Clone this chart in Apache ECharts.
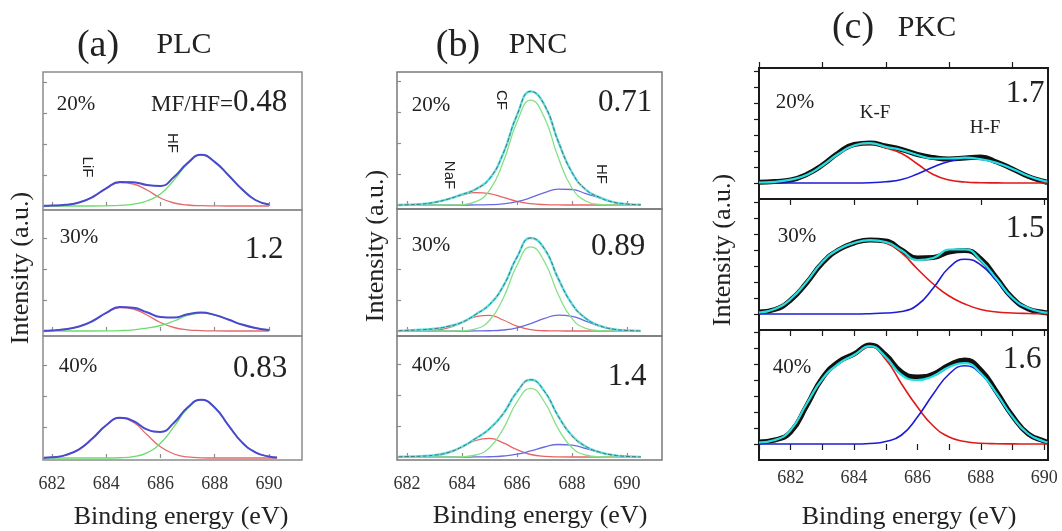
<!DOCTYPE html>
<html><head><meta charset="utf-8">
<script src="https://cdn.jsdelivr.net/npm/echarts@6/dist/echarts.min.js"></script>
<style>html,body{margin:0;padding:0;background:#fff}#c{width:1062px;height:531px}</style>
</head><body><div id="c"></div>
<script>
// ---------- DATA (intensities in arbitrary units) ----------
const tickEnergies = [682, 684, 686, 688, 690];

// (a) PLC
const energyA = [681.7,682,682.5,683,683.5,684,684.5,685,685.5,686,686.5,687,687.5,688,688.5,689,689.5,690,690.3];
const a20LiF = [0.2,0.4,1.2,3.5,9,17.5,23.5,22,16,8,3,1,0.3,0.1,0,0,0,0,null];
const a20HF  = [0,0,0,0,0,0.2,0.6,1.8,5,12,26,42,51,44,31,17,6,1.5,null];
const a20Fit = [0.2,0.4,1.2,3.5,9,17.7,24.1,23.8,21,20,29,43,51.3,44.1,31,17,6,1.5,null];
const a30LiF = [0.3,0.6,1.8,4.5,10,18,23.5,22,16,8.5,3.5,1.2,0.4,0.1,0,0,0,0,null];
const a30HF  = [0,0,0,0,0,0.1,0.4,1.2,2.8,5.5,10,15.5,18,16,11.5,6.5,3,1,null];
const a30Fit = [0.3,0.6,1.8,4.5,10,18.1,23.9,23.2,18.8,14,13.5,16.7,18.4,16.1,11.5,6.5,3,1,null];
const a40LiF = [0.25,0.7,2.9,8.7,19.7,32.7,39.9,35.7,23.4,11.3,4,1.05,0.2,0,0,0,0,0,0];
const a40HF  = [0,0,0,0,0,0,0.26,1.35,5.2,14.8,31.3,49.4,58,50.6,32.9,15.9,5.7,1.5,0.6];
const a40Fit = [0.25,0.7,2.9,8.7,19.7,32.7,40.2,37,28.6,26.1,35.3,50.5,58.2,50.6,32.9,15.9,5.7,1.5,0.6];

// (b) PNC
const energyB = [681.7,682,682.5,683,683.5,684,684.5,685,685.5,686,686.5,687,687.5,688,688.5,689,689.5,690,690.5];
const b20NaF = [0.07,0.19,0.82,2.6,5.9,10,12.4,11.3,7.6,3.7,1.35,0.36,0.07,0,0,0,0,0,0];
const b20CF  = [0,0,0,0,0.05,0.47,3.3,14.6,42.9,82.8,104.9,87.2,47.5,17,4,0.6,0.06,0,0];
const b20HF  = [0,0,0,0,0,0,0.06,0.29,1.1,3.3,7.3,12.4,15.9,15.5,11.4,7,2.7,0.87,0.21];
const b20Fit = [0.07,0.19,0.82,2.6,5.95,10.5,15.8,26.2,51.6,89.8,113.6,100,63.5,32.5,15.4,7.6,2.8,0.9,0.2];
const b30NaF = [0,0.01,0.12,0.76,3.2,8.4,14.4,15.7,11,4.9,1.4,0.26,0.03,0,0,0,0,0,0];
const b30CF  = [0,0,0,0,0,0.29,2.2,10.5,32.8,65.7,84.2,69.3,36.5,12.4,2.7,0.37,0.04,0,0];
const b30HF  = [0,0,0,0,0,0,0.04,0.23,1,3.2,7.4,12.6,15.9,14.6,9.9,4.9,1.8,0.48,0.1];
const b30Fit = [0.3,0.6,1.2,2.3,4.6,8.7,16.6,26.4,44.8,73.8,93,82.2,52.4,27,12.6,5.3,1.8,0.5,0.1];
const b40NaF = [0,0.03,0.21,1.1,4,9.9,16.5,18.6,14.1,7.3,2.5,0.6,0.1,0,0,0,0,0,0];
const b40CF  = [0,0,0,0,0,0.27,2,9.3,28.2,55,68.7,55,28.2,9.3,2,0.27,0.01,0,0];
const b40HF  = [0,0,0,0,0,0,0.05,0.26,0.98,2.8,6.1,10,12.5,11.9,8.5,4.6,1.9,0.6,0.14];
const b40Fit = [0.2,0.4,0.8,1.8,4.5,10.2,18.6,28.2,43.3,65.1,77.3,65.6,40.8,21.2,10.5,4.9,1.9,0.6,0.14];

// (c) PKC
const energyC = [681,681.5,682,682.5,683,683.5,684,684.5,685,685.5,686,686.5,687,687.5,688,688.5,689,689.5,690,690.1];
const c20Data = [0.8,1.5,3,8.5,18,30,38.5,40,37,33.5,28.5,25.5,24,25,26,21,14,6.5,1.5,0.5];
const c20KF   = [0.5,1.2,3.3,8,17.5,29,37.5,39.5,35,29.5,19,8.5,3,1,0.3,0.1,0,0,0,0];
const c20HF   = [0,0,0,0,0,0,0,0.3,1.2,3.5,9,16,21.5,24.3,23.5,20,14,7,2,1.5];
const c20Fit  = [0.5,1.2,3.3,8,17.5,29,37.5,39.8,36.2,33,28,24.5,24.5,25.3,23.8,20.1,14,7,2,1.5];
const c30Data = [2,4.5,14,31,51,64,71,74,73,64,56,56.5,62,63.5,55,36,16,5,1.5,1];
const c30KF   = [1.5,5,15,32,52,64.5,71,73.5,71,61,45,30,18,10,4.5,2,1,0.5,0.2,0.2];
const c30HF   = [0,0,0,0,0,0,0,0.3,1,2.5,9,26,46.5,54.7,49,33,15,5.5,1.5,1.2];
const c30Fit  = [1.5,5,15,32,52,64.5,71,73.8,72,63.5,54,56,64.5,64.7,53.5,35,16,6,1.7,1.4];
const c40Data = [2,4,12,38,66,82,90,99,89,72,67,70,79,84,74,52,28,10,3,2];
const c40KF   = [1.5,4,14,40,65,80,89,97.3,84.5,60,37,18,7,2.5,0.8,0.3,0.1,0,0,0];
const c40HF   = [0,0,0,0,0,0,0,0.5,2.5,9,27,50,70,78.3,70,50,27,10,2.5,1.8];
const c40Fit  = [1.5,4,14,40,65,80,89,97.8,87,69,64,68,77,80.8,70.8,50.3,27.1,10,2.5,1.8];

// ---------- BUILD ----------
const SERIF = 'Liberation Serif';
const SANS = 'Liberation Sans';
function pairs(xs, ys){ const o=[]; xs.forEach((x,i)=>{ if(ys[i]!=null) o.push([x,ys[i]]); }); return o; }

const panels = [
  { left:43, width:259, xmin:681.67, xmax:691.22, border:'#8c8c8c', bw:1.5, kind:'a', energy:energyA,
    subs:[
      {top:72, h:138, ymin:-4, ymax:134, lines:[[a20LiF,'#e46a6a',1.3],[a20HF,'#6cdc6c',1.3],[a20Fit,'#4848d0',2]]},
      {top:210, h:126, ymin:-5, ymax:121, lines:[[a30LiF,'#e46a6a',1.3],[a30HF,'#6cdc6c',1.3],[a30Fit,'#4848d0',2]]},
      {top:336, h:124, ymin:-2, ymax:122, lines:[[a40LiF,'#e46a6a',1.3],[a40HF,'#6cdc6c',1.3],[a40Fit,'#4848d0',2]]}
    ]},
  { left:397, width:265, xmin:681.64, xmax:691.27, border:'#7a7a7a', bw:1.5, kind:'b', energy:energyB,
    subs:[
      {top:72, h:137, ymin:-4, ymax:133, lines:[[b20NaF,'#e86464',1.3],[b20HF,'#6a6ae2',1.3],[b20CF,'#86e086',1.3],[b20Fit,'#62e2e2',2.4],[b20Fit,'#4e6e6e',1,'dashed']]},
      {top:209, h:127, ymin:-5, ymax:122, lines:[[b30NaF,'#e86464',1.3],[b30HF,'#6a6ae2',1.3],[b30CF,'#86e086',1.3],[b30Fit,'#62e2e2',2.4],[b30Fit,'#4e6e6e',1,'dashed']]},
      {top:336, h:124, ymin:-3, ymax:121, lines:[[b40NaF,'#e86464',1.3],[b40HF,'#6a6ae2',1.3],[b40CF,'#86e086',1.3],[b40Fit,'#62e2e2',2.4],[b40Fit,'#4e6e6e',1,'dashed']]}
    ]},
  { left:759, width:289, xmin:681, xmax:690.12, border:'#1a1a1a', bw:2, kind:'c', energy:energyC,
    subs:[
      {top:68, h:131, ymin:-16, ymax:115, lines:[[c20Data,'#111111',5],[c20KF,'#e01818',1.6],[c20HF,'#1c1cd6',1.6],[c20Fit,'#22e0e0',2.2]]},
      {top:199, h:131, ymin:-16, ymax:115, lines:[[c30Data,'#111111',5],[c30KF,'#e01818',1.6],[c30HF,'#1c1cd6',1.6],[c30Fit,'#22e0e0',2.2]]},
      {top:330, h:130, ymin:-16, ymax:114, lines:[[c40Data,'#111111',5],[c40KF,'#e01818',1.6],[c40HF,'#1c1cd6',1.6],[c40Fit,'#22e0e0',2.2]]}
    ]}
];

const grids=[], xAxes=[], yAxes=[], series=[];
const intE = [681,682,683,684,685,686,687,688,689,690];
panels.forEach(p=>{
  p.subs.forEach((s,si)=>{
    const gi = grids.length;
    const last = si===p.subs.length-1;
    grids.push({left:p.left, top:s.top, width:p.width, height:s.h, show:true,
      borderColor:p.border, borderWidth:p.bw, backgroundColor:'transparent'});
    const isC = p.kind==='c';
    const tickColor = isC ? '#1a1a1a' : '#8c8c8c';
    const xb = {gridIndex:gi, type:'value', position:'bottom', min:p.xmin, max:p.xmax,
      axisLine:{show:false}, splitLine:{show:false},
      axisTick:{show: isC ? last : true, inside: !isC, length: isC?6:4,
        customValues: isC ? intE : tickEnergies, lineStyle:{color:tickColor, width:1.2}},
      axisLabel:{show:last, customValues:tickEnergies, fontFamily:SERIF, fontSize:18,
        color:'#333', margin: isC?9:15}};
    const xbi = xAxes.length; xAxes.push(xb);
    if (isC) {
      const topTicks = si===0 ? [681,683,685,687,689] : (si===1 ? tickEnergies : intE);
      xAxes.push({gridIndex:gi, type:'value', position:'top', min:p.xmin, max:p.xmax,
        axisLine:{show:false}, splitLine:{show:false}, axisLabel:{show:false},
        axisTick:{show:true, inside: si!==0, length:6, customValues:topTicks,
          lineStyle:{color:tickColor, width:1.2}}});
    }
    const yi = yAxes.length;
    yAxes.push({gridIndex:gi, type:'value', min:s.ymin, max:s.ymax,
      axisLine:{show:false}, splitLine:{show:false}, axisLabel:{show:false},
      axisTick:{show:true, inside:!isC, length: isC?5:4,
        customValues: isC ? [0,16,32,48,64,80,96,112].filter(v=>v<s.ymax) : [0,31,62,93,124].filter(v=>v<s.ymax),
        lineStyle:{color:tickColor, width:1.2}}});
    s.lines.forEach((L,li)=>{
      series.push({type:'line', xAxisIndex:xbi, yAxisIndex:yi, data:pairs(p.energy, L[0]),
        smooth:0.5, showSymbol:false, symbol:'none', silent:true, z:2+li,
        lineStyle:{color:L[1], width:L[2], type:L[3]||'solid', dashOffset:0}});
    });
  });
});

function txt(x,y,text,size,opt){
  opt = opt||{};
  return {type:'text', x:x, y:y, rotation:opt.rot||0, z:100, silent:true,
    style:{text:text, fontSize:size, fontFamily:opt.font||SERIF, fill:opt.color||'#222',
      textAlign:opt.align||'center', align:opt.align||'center',
      textVerticalAlign:'middle', verticalAlign:'middle'}};
}
const R = -Math.PI/2, L90 = Math.PI/2;
const graphics = [
  txt(98,46,'(a)',38), txt(184,45,'PLC',30),
  txt(458,46,'(b)',38), txt(538,45,'PNC',30),
  txt(853,28,'(c)',38), txt(927,28,'PKC',30),
  // (a)
  txt(76,104,'20%',21), txt(233,105,'MF/HF=',23,{align:'right'}), txt(233,103,'0.48',31,{align:'left'}),
  txt(87,167,'LiF',15,{rot:R,font:SANS}), txt(172,143,'HF',15,{rot:R,font:SANS}),
  txt(79,237,'30%',21), txt(264,250,'1.2',31),
  txt(78,366,'40%',21), txt(260,369,'0.83',31),
  // (b)
  txt(431,105,'20%',21), txt(625,103,'0.71',31),
  txt(501,100,'CF',15,{rot:R,font:SANS}), txt(449,175,'NaF',15,{rot:R,font:SANS}), txt(601,174,'HF',15,{rot:R,font:SANS}),
  txt(431,245,'30%',21), txt(618,247,'0.89',31),
  txt(431,365,'40%',21), txt(627,377,'1.4',31),
  // (c)
  txt(795,102,'20%',21), txt(1025,94,'1.7',31), txt(875,113,'K-F',19), txt(985,128,'H-F',19),
  txt(797,236,'30%',21), txt(1025,229,'1.5',31),
  txt(792,367,'40%',21), txt(1022,360,'1.6',31),
  // axis titles
  txt(21,268,'Intensity (a.u.)',26,{rot:L90}), txt(376,246,'Intensity (a.u.)',26,{rot:L90}), txt(723,250,'Intensity (a.u.)',26,{rot:L90}),
  txt(181,517,'Binding energy (eV)',26), txt(540,516,'Binding energy (eV)',26), txt(909,517,'Binding energy (eV)',26)
];

const chart = echarts.init(document.getElementById('c'), null, {renderer:'canvas'});
chart.setOption({animation:false, backgroundColor:'#ffffff',
  grid:grids, xAxis:xAxes, yAxis:yAxes, series:series, graphic:{elements:graphics}});
</script></body></html>
